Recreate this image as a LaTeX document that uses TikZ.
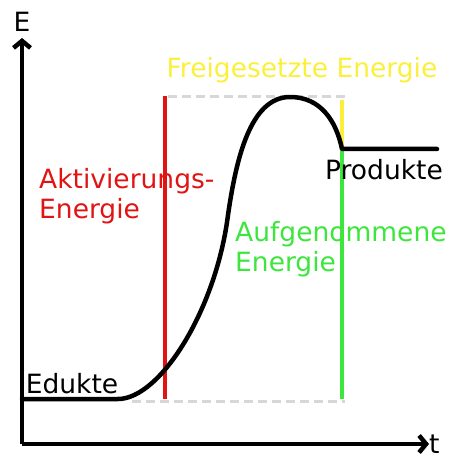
\documentclass[tikz,border=0pt]{standalone}
\usepackage{fontspec}
\setmainfont{DejaVu Sans}
\usetikzlibrary{arrows.meta}
\definecolor{cred}{RGB}{225,20,20}
\definecolor{cyellow}{RGB}{250,240,60}
\definecolor{cgreen}{RGB}{60,230,60}
\definecolor{cgray}{RGB}{215,215,215}
\tikzset{
  axis/.style={line width=4.5pt,-{Straight Barb[length=7pt,width=17pt,line width=4.5pt]}},
  curve/.style={line width=4.5pt,line cap=round,line join=round},
  vline/.style={line width=4pt},
  dashline/.style={draw=cgray,line width=3pt,dash pattern=on 9pt off 5pt},
  lbl/.style={font=\fontsize{26.5}{30}\selectfont,inner sep=0pt,align=left}
}
\begin{document}
\begin{tikzpicture}[x=1pt,y=-1pt]
\useasboundingbox (0,0) rectangle (452,462);
% dashed guides
\draw[dashline] (168,97) -- (345,97);
\draw[dashline] (132,401) -- (345,401);
% vertical bars
\draw[vline,cred] (165,96) -- (165,399);
\draw[vline,cyellow] (342,100) -- (342,150);
\draw[vline,cgreen] (342,150) -- (342,399);
% axes
\coordinate (O) at (22,444);
\coordinate (Ytop) at (22,38);
\coordinate (Xend) at (429,444);
\draw[axis] (O) -- (Ytop);
\draw[axis] (O) -- (Xend);
\node[lbl,anchor=south] (E) at (22,32) {E};
\node[lbl,anchor=west] (t) at (429,444) {t};
% energy curve
\draw[curve] (22,399) -- (118,399)
  .. controls (160,399) and (216,310) .. (228,215)
  .. controls (236,160) and (250,97) .. (290,97)
  .. controls (320,97) and (336,120) .. (342,149)
  -- (437,149);
% labels
\node[lbl,text=cyellow,anchor=center] (frei) at (302,70) {Freigesetzte Energie};
\node[lbl,text=cred,anchor=north west] (akt) at (39,168) {Aktivierungs-\\Energie};
\node[lbl,text=cgreen,anchor=north west] (auf) at (235,221) {Aufgenommene\\Energie};
\node[lbl,anchor=center] (prod) at (384,170) {Produkte};
\node[lbl,anchor=center] (edu) at (72,384) {Edukte};
\end{tikzpicture}
\end{document}
